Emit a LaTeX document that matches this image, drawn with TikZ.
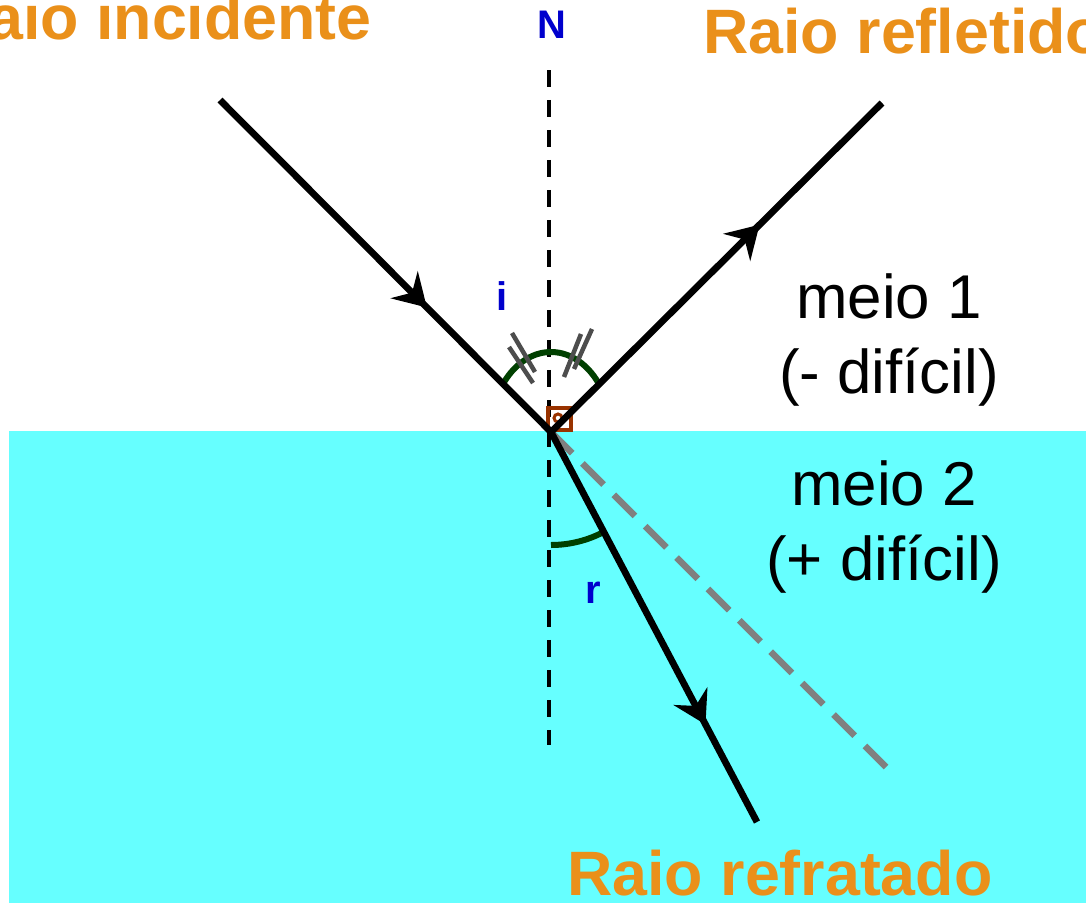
\documentclass[tikz,border=0pt]{standalone}
\usepackage{fontspec}
\setmainfont{Liberation Sans}
\usetikzlibrary{arrows.meta,decorations.markings}
\definecolor{laranja}{RGB}{234,144,26}
\definecolor{azul}{RGB}{0,0,205}
\definecolor{agua}{RGB}{102,255,255}
\definecolor{verde}{RGB}{0,64,0}
\definecolor{cinza}{RGB}{77,77,77}
\definecolor{tracejado}{RGB}{128,128,128}
\definecolor{tijolo}{RGB}{153,51,0}
\tikzset{
  raio/.style={line width=0.135cm},
  seta/.style={decoration={markings,mark=at position #1 with {\arrow{Stealth[length=0.64cm,width=0.76cm,inset=0.22cm]}}},postaction={decorate}},
  titulo/.style={text=laranja,font=\bfseries\fontsize{35.7}{42}\selectfont,inner sep=0pt},
  letra/.style={text=azul,font=\bfseries\fontsize{22.7}{26}\selectfont,inner sep=0pt},
  meio/.style={align=center,font=\fontsize{35.2}{43.1}\selectfont,inner sep=0pt},
  arco/.style={draw=verde,line width=0.12cm},
  tique/.style={draw=cinza,line width=0.09cm}
}

\begin{document}
\begin{tikzpicture}[x=0.02cm,y=-0.02cm]
    \useasboundingbox (0,0) rectangle (1086,903);
    \clip (0,0) rectangle (1086,903);
    \fill[white] (0,0) rectangle (1086,903);
    \fill[agua] (9,431) rectangle (1086,903);
    % pontos
    \coordinate (O) at (551,432);
    \coordinate (inc) at (220,100);
    \coordinate (refl) at (882,103);
    \coordinate (refr) at (757,822);
    \coordinate (prol) at (886,767);
    \coordinate (Ntop) at (549,70);
    \coordinate (Nbot) at (549,745);
    % normal e prolongamento
    \draw[line width=0.08cm,dash pattern=on 0.34cm off 0.26cm] (Ntop) -- (Nbot);
    \draw[tracejado,line width=0.13cm,dash pattern=on 0.6cm off 0.288cm] (O) -- (prol);
    % angulos
    \draw[arco] (O) ++(-36.87:60 and 80) arc[start angle=-36.87,end angle=-143.13,x radius=60,y radius=80];
    \draw[arco] (O) ++(90:113) arc[start angle=90,end angle=62.2,radius=113];
    \draw[tique] (512,333) -- (535,372);
    \draw[tique] (509,347) -- (533,383);
    \draw[tique] (592,329) -- (574,369);
    \draw[tique] (581,334) -- (564,377);
    \draw[tijolo,line width=0.07cm] (548,408) rectangle (571,430);
    \draw[tijolo,line width=0.06cm] (558,418) circle (4);
    % raios
    \draw[raio,seta=0.625] (inc) -- (O);
    \draw[raio,seta=0.63] (O) -- (refl);
    \draw[raio,seta=0.75] (O) -- (refr);
    % textos
    \node[titulo,anchor=base east] (incidente) at (372,39) {Raio incidente};
    \node[titulo,anchor=base west] (refletido) at (703,53) {Raio refletido};
    \node[titulo,anchor=base west] (refratado) at (567,895) {Raio refratado};
    \node[letra,anchor=base] (rotN) at (552,38) {N};
    \node[letra,anchor=base] (roti) at (502,310) {i};
    \node[letra,anchor=base] (rotr) at (593,603) {r};
    \node[meio] (meio1) at (889,340) {meio 1\\(- difícil)};
    \node[meio] (meio2) at (884,527) {meio 2\\(+ difícil)};
\end{tikzpicture}
\end{document}
